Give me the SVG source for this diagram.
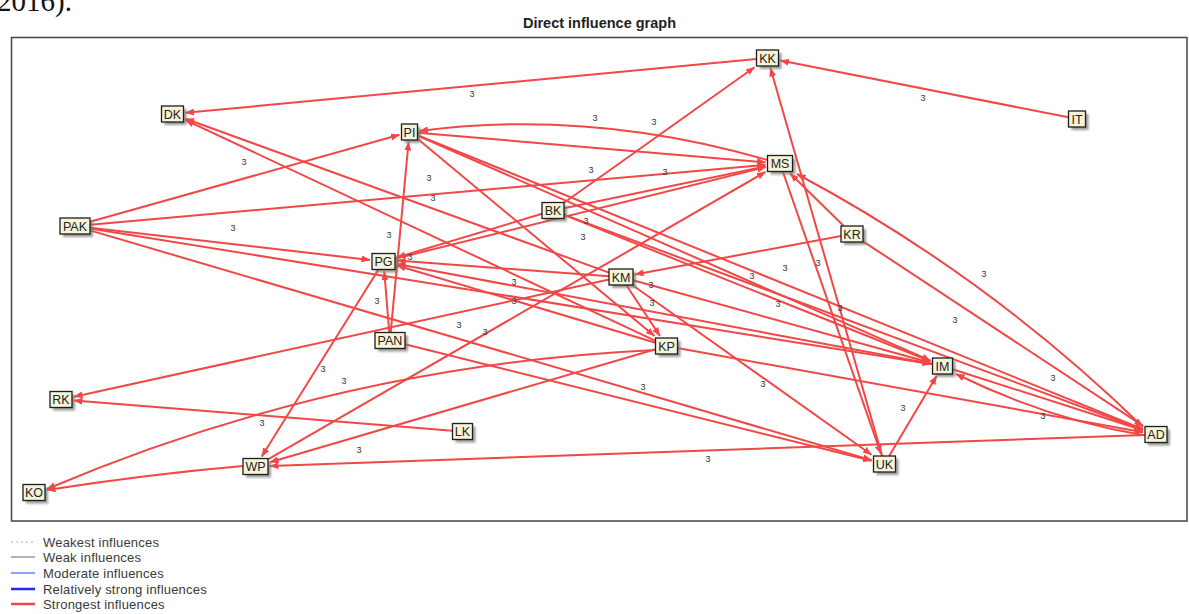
<svg xmlns="http://www.w3.org/2000/svg" width="1189" height="614" viewBox="0 0 1189 614">
<style>
.e{fill:none;stroke:#f24747;stroke-width:2;marker-end:url(#ah)}
.n rect.b{fill:#f6f3d9;stroke:#1e1e1e;stroke-width:1.3}
.n rect.s{fill:#7a7a7a;opacity:0.75;filter:url(#bl)}
.n text{font-family:"Liberation Sans",Arial,sans-serif;font-size:12.5px;fill:#222;text-anchor:middle}
.w{font-family:"Liberation Sans",Arial,sans-serif;font-size:9px;fill:#333;text-anchor:middle}
.lg{font-family:"Liberation Sans",Arial,sans-serif;font-size:13px;fill:#3a3a3a;letter-spacing:0.2px}
</style>
<defs>
<marker id="ah" markerWidth="9" markerHeight="7" refX="8.5" refY="3.5" orient="auto" markerUnits="userSpaceOnUse"><path d="M0,0 L9,3.5 L0,7 z" fill="#f24747"/></marker>
<filter id="bl" x="-30%" y="-30%" width="160%" height="160%"><feGaussianBlur stdDeviation="0.8"/></filter>
</defs>
<rect x="0" y="0" width="1189" height="614" fill="#ffffff"/>
<text x="-3" y="11" font-family="Liberation Serif,'Times New Roman',serif" font-size="29" fill="#111">2016).</text>
<text x="599.5" y="28" font-family="Liberation Sans,Arial,sans-serif" font-size="14.5" font-weight="bold" fill="#222" text-anchor="middle">Direct influence graph</text>
<rect x="11.5" y="37.5" width="1175.5" height="483.5" fill="none" stroke="#444" stroke-width="1.5"/>

<g id="connectors">
<path class="e" d="M1068.5,117.3 L780.5,60.6"/>
<path class="e" d="M756.5,59 L185.5,112.8"/>
<path class="e" d="M564,202.7 L754.5,67.2"/>
<path class="e" d="M882.2,456 L770.4,68"/>
<path class="e" d="M767.5,160 Q590,108.5 419.5,131"/>
<path class="e" d="M417.5,132.7 L765.5,162.3"/>
<path class="e" d="M90,221.8 L399.5,134.8"/>
<path class="e" d="M90,224.7 L765.5,164.8"/>
<path class="e" d="M90,227.7 L370,259.9"/>
<path class="e" d="M90,228.4 L930.5,364.1"/>
<path class="e" d="M90,230.4 L871.5,460.2"/>
<path class="e" d="M655.5,340.8 L185.5,120.1"/>
<path class="e" d="M609,272.6 L185.5,118.7"/>
<path class="e" d="M417.5,138.7 L654.5,336"/>
<path class="e" d="M417.5,135.2 L1143,429.2"/>
<path class="e" d="M417.5,135.5 L930.5,360.7"/>
<path class="e" d="M542,213.8 L397,257.4"/>
<path class="e" d="M564,208.2 L765.5,166.5"/>
<path class="e" d="M395,258.7 L765.5,167.1"/>
<path class="e" d="M564,214.6 L1143,429.7"/>
<path class="e" d="M564,214.9 L930.5,361.2"/>
<path class="e" d="M609,276.2 L397,260.6"/>
<path class="e" d="M626.3,285 L660,336"/>
<path class="e" d="M632.3,285 L871.5,454.8"/>
<path class="e" d="M633,280.3 L930.5,362.7"/>
<path class="e" d="M609,279.6 L74,396.7"/>
<path class="e" d="M841,236 L635,274.4"/>
<path class="e" d="M843.8,226 L790.2,173.5"/>
<path class="e" d="M863,241.3 L1143,425.9"/>
<path class="e" d="M1143,427 Q988,276 797,174"/>
<path class="e" d="M782.8,171.5 L881,454"/>
<path class="e" d="M655.5,342.7 L397,265.5"/>
<path class="e" d="M655.5,350 Q338,365 47,489"/>
<path class="e" d="M655.5,349.2 L270,462.2"/>
<path class="e" d="M677.5,348 L1143,432.2"/>
<path class="e" d="M390.7,332.5 L408.6,142"/>
<path class="e" d="M389.3,332.5 L384.3,271.5"/>
<path class="e" d="M405,344.2 L871.5,460.8"/>
<path class="e" d="M378.5,269.5 L261.7,456.5"/>
<path class="e" d="M268,459.3 L765.5,171.9"/>
<path class="e" d="M243,466 Q150,474 47,490"/>
<path class="e" d="M452.5,430.7 L74,400.5"/>
<path class="e" d="M1145,434.9 L270,466"/>
<path class="e" d="M889.2,456 L936.6,376"/>
<path class="e" d="M952.5,369.2 L1143,430.3"/>
<path class="e" d="M1143,435 Q1050,420 956,374"/>
<path class="e" d="M932.5,364.1 L397,264"/>
</g>

<g id="weights">
<text class="w" x="472" y="97">3</text>
<text class="w" x="595" y="121">3</text>
<text class="w" x="654" y="125">3</text>
<text class="w" x="923" y="101">3</text>
<text class="w" x="244" y="165">3</text>
<text class="w" x="429" y="181">3</text>
<text class="w" x="591" y="173">3</text>
<text class="w" x="665" y="175">3</text>
<text class="w" x="433" y="201">3</text>
<text class="w" x="233" y="231">3</text>
<text class="w" x="389" y="238">3</text>
<text class="w" x="410" y="260">3</text>
<text class="w" x="586" y="224">3</text>
<text class="w" x="583" y="240">3</text>
<text class="w" x="514" y="285">3</text>
<text class="w" x="514" y="304">3</text>
<text class="w" x="377" y="304">3</text>
<text class="w" x="459" y="328">3</text>
<text class="w" x="485" y="335">3</text>
<text class="w" x="651" y="288">3</text>
<text class="w" x="652" y="306">3</text>
<text class="w" x="752" y="279">3</text>
<text class="w" x="785" y="271">3</text>
<text class="w" x="818" y="266">3</text>
<text class="w" x="778" y="307">3</text>
<text class="w" x="840" y="311">3</text>
<text class="w" x="984" y="277">3</text>
<text class="w" x="955" y="323">3</text>
<text class="w" x="1053" y="381">3</text>
<text class="w" x="323" y="372">3</text>
<text class="w" x="344" y="384">3</text>
<text class="w" x="643" y="390">3</text>
<text class="w" x="763" y="387">3</text>
<text class="w" x="903" y="411">3</text>
<text class="w" x="1043" y="419">3</text>
<text class="w" x="262" y="426">3</text>
<text class="w" x="359" y="453">3</text>
<text class="w" x="708" y="462">3</text>
</g>

<g id="n-KK" class="n"><rect class="s" x="759.5" y="53" width="22" height="16"/><rect class="b" x="756.5" y="50" width="22" height="16"/><text x="767.5" y="62.5">KK</text></g>
<g id="n-IT" class="n"><rect class="s" x="1071.5" y="114" width="17" height="16"/><rect class="b" x="1068.5" y="111" width="17" height="16"/><text x="1077" y="123.5">IT</text></g>
<g id="n-DK" class="n"><rect class="s" x="164.5" y="109" width="22" height="16"/><rect class="b" x="161.5" y="106" width="22" height="16"/><text x="172.5" y="118.5">DK</text></g>
<g id="n-PI" class="n"><rect class="s" x="404.5" y="127" width="16" height="16"/><rect class="b" x="401.5" y="124" width="16" height="16"/><text x="409.5" y="136.5">PI</text></g>
<g id="n-MS" class="n"><rect class="s" x="770.5" y="158.5" width="25" height="16"/><rect class="b" x="767.5" y="155.5" width="25" height="16"/><text x="780" y="168">MS</text></g>
<g id="n-BK" class="n"><rect class="s" x="545" y="205.5" width="22" height="16"/><rect class="b" x="542" y="202.5" width="22" height="16"/><text x="553" y="215">BK</text></g>
<g id="n-PAK" class="n"><rect class="s" x="63" y="221" width="30" height="16"/><rect class="b" x="60" y="218" width="30" height="16"/><text x="75" y="230.5">PAK</text></g>
<g id="n-KR" class="n"><rect class="s" x="844" y="229" width="22" height="16"/><rect class="b" x="841" y="226" width="22" height="16"/><text x="852" y="238.5">KR</text></g>
<g id="n-PG" class="n"><rect class="s" x="375" y="256.5" width="23" height="16"/><rect class="b" x="372" y="253.5" width="23" height="16"/><text x="383.5" y="266">PG</text></g>
<g id="n-KM" class="n"><rect class="s" x="612" y="272" width="24" height="16"/><rect class="b" x="609" y="269" width="24" height="16"/><text x="621" y="281.5">KM</text></g>
<g id="n-PAN" class="n"><rect class="s" x="378" y="335.5" width="30" height="16"/><rect class="b" x="375" y="332.5" width="30" height="16"/><text x="390" y="345">PAN</text></g>
<g id="n-KP" class="n"><rect class="s" x="658.5" y="341" width="22" height="16"/><rect class="b" x="655.5" y="338" width="22" height="16"/><text x="666.5" y="350.5">KP</text></g>
<g id="n-IM" class="n"><rect class="s" x="935.5" y="361" width="20" height="16"/><rect class="b" x="932.5" y="358" width="20" height="16"/><text x="942.5" y="370.5">IM</text></g>
<g id="n-RK" class="n"><rect class="s" x="53" y="394.5" width="22" height="16"/><rect class="b" x="50" y="391.5" width="22" height="16"/><text x="61" y="404">RK</text></g>
<g id="n-LK" class="n"><rect class="s" x="455.5" y="426.5" width="20" height="16"/><rect class="b" x="452.5" y="423.5" width="20" height="16"/><text x="462.5" y="436">LK</text></g>
<g id="n-AD" class="n"><rect class="s" x="1148" y="429.5" width="22" height="16"/><rect class="b" x="1145" y="426.5" width="22" height="16"/><text x="1156" y="439">AD</text></g>
<g id="n-WP" class="n"><rect class="s" x="246" y="461.5" width="25" height="16"/><rect class="b" x="243" y="458.5" width="25" height="16"/><text x="255.5" y="471">WP</text></g>
<g id="n-UK" class="n"><rect class="s" x="876.5" y="459" width="22" height="16"/><rect class="b" x="873.5" y="456" width="22" height="16"/><text x="884.5" y="468.5">UK</text></g>
<g id="n-KO" class="n"><rect class="s" x="26" y="487.5" width="22" height="16"/><rect class="b" x="23" y="484.5" width="22" height="16"/><text x="34" y="497">KO</text></g>

<g id="legend">
<line x1="11" y1="542" x2="33" y2="542" stroke="#b0b0b0" stroke-width="1" stroke-dasharray="2,3"/>
<text class="lg" x="43" y="546.5">Weakest influences</text>
<line x1="11" y1="557" x2="35" y2="557" stroke="#666" stroke-width="1"/>
<text class="lg" x="43" y="561.5">Weak influences</text>
<line x1="11" y1="573" x2="35" y2="573" stroke="#3434f0" stroke-width="1"/>
<text class="lg" x="43" y="577.5">Moderate influences</text>
<line x1="11" y1="589" x2="35" y2="589" stroke="#2828e8" stroke-width="2.5"/>
<text class="lg" x="43" y="593.5">Relatively strong influences</text>
<line x1="11" y1="604" x2="35" y2="604" stroke="#f24747" stroke-width="2.5"/>
<text class="lg" x="43" y="608.5">Strongest influences</text>
</g>
</svg>
